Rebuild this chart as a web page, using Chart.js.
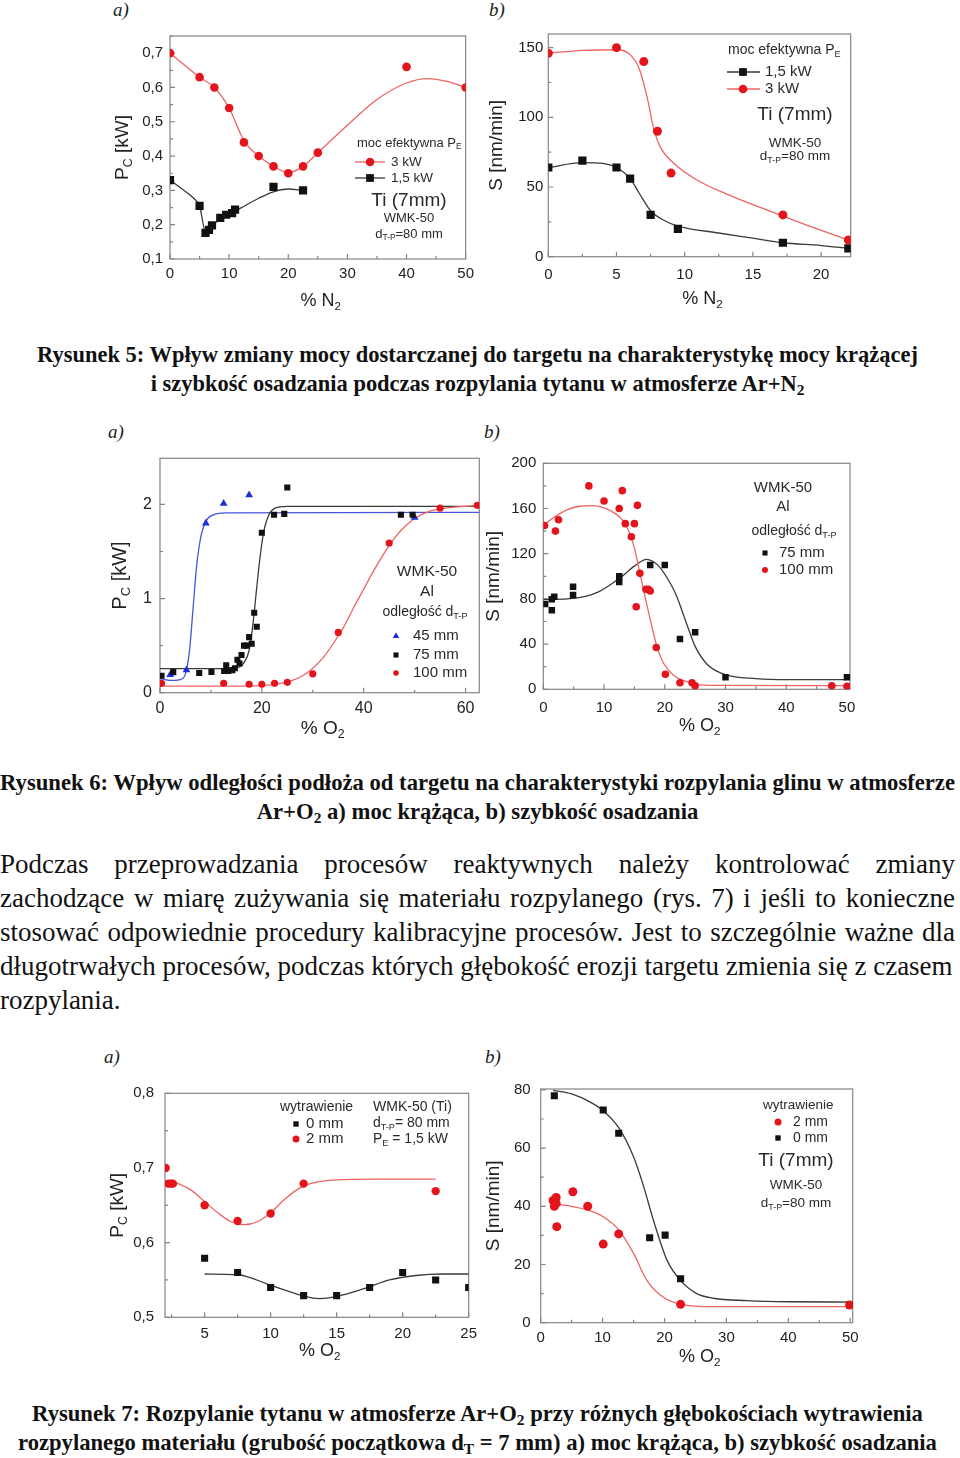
<!DOCTYPE html>
<html lang="pl">
<head>
<meta charset="utf-8">
<script src="https://cdn.jsdelivr.net/npm/chart.js@4/dist/chart.umd.min.js"></script>
<style>
  body { margin: 0; width: 960px; height: 1458px; position: relative; background: #fff; overflow: hidden; }
  canvas { position: absolute; }
  .lbl { position: absolute; font: italic 19px "Liberation Serif", serif; color: #222; line-height: 20px; }
  .cap { position: absolute; left: 0; width: 955px; text-align: center; font-family: "Liberation Serif", serif;
         font-weight: bold; line-height: 29px; white-space: nowrap; color: #111; }
  .para { position: absolute; left: 0; width: 955px; font-family: "Liberation Serif", serif; line-height: 34px;
          white-space: nowrap; color: #111; }
  .para .j { text-align: justify; text-align-last: justify; white-space: normal; }
  sub { font-size: 0.68em; vertical-align: baseline; position: relative; top: 0.28em; line-height: 0; }
</style>
</head>
<body>

<div class="lbl" style="left:113px;top:0px">a)</div>
<div class="lbl" style="left:489px;top:0px">b)</div>
<canvas id="c5a"></canvas>
<canvas id="c5b"></canvas>

<div class="cap" data-w="881" style="top:340px">
  <div><span class="ref">Rysunek 5: Wpływ zmiany mocy dostarczanej do targetu na charakterystykę mocy krążącej</span></div>
  <div><span>i szybkość osadzania podczas rozpylania tytanu w atmosferze Ar+N<sub>2</sub></span></div>
</div>

<div class="lbl" style="left:108px;top:422px">a)</div>
<div class="lbl" style="left:484px;top:422px">b)</div>
<canvas id="c6a"></canvas>
<canvas id="c6b"></canvas>

<div class="cap" data-w="955" style="top:768px">
  <div><span class="ref">Rysunek 6: Wpływ odległości podłoża od targetu na charakterystyki rozpylania glinu w atmosferze</span></div>
  <div><span>Ar+O<sub>2</sub> a) moc krążąca, b) szybkość osadzania</span></div>
</div>

<div class="para" data-w="953" style="top:847px">
  <div class="j">Podczas przeprowadzania procesów reaktywnych należy kontrolować zmiany</div>
  <div class="j">zachodzące w miarę zużywania się materiału rozpylanego (rys. 7) i jeśli to konieczne</div>
  <div class="j">stosować odpowiednie procedury kalibracyjne procesów. Jest to szczególnie ważne dla</div>
  <div><span class="ref">długotrwałych procesów, podczas których głębokość erozji targetu zmienia się z czasem</span></div>
  <div>rozpylania.</div>
</div>

<div class="lbl" style="left:104px;top:1047px">a)</div>
<div class="lbl" style="left:485px;top:1047px">b)</div>
<canvas id="c7a"></canvas>
<canvas id="c7b"></canvas>

<div class="cap" data-w="919" style="top:1399px">
  <div><span>Rysunek 7: Rozpylanie tytanu w atmosferze Ar+O<sub>2</sub> przy różnych głębokościach wytrawienia</span></div>
  <div><span class="ref">rozpylanego materiału (grubość początkowa d<sub>T</sub> = 7 mm) a) moc krążąca, b) szybkość osadzania</span></div>
</div>

<script>
// ---------- dane: Rys. 5a (P_C od % N2) ----------
const f5a_x3kW = [0, 5, 7.5, 10, 12.5, 15, 17.5, 20, 22.5, 25, 40, 50];
const f5a_y3kW = [0.70, 0.63, 0.60, 0.54, 0.44, 0.40, 0.37, 0.35, 0.37, 0.41, 0.66, 0.60];
const f5a_fit3kW_x = [0, 5, 7.5, 10, 12.5, 15, 17.5, 20, 22.5, 25, 30, 35, 40, 43.5, 47, 50];
const f5a_fit3kW_y = [0.70, 0.63, 0.60, 0.54, 0.445, 0.40, 0.37, 0.352, 0.37, 0.41, 0.49, 0.565, 0.613, 0.626, 0.617, 0.60];
const f5a_x15kW = [0, 5, 6, 6.6, 7.1, 8.5, 9.5, 10.5, 11, 17.5, 22.5];
const f5a_y15kW = [0.33, 0.255, 0.176, 0.185, 0.198, 0.22, 0.229, 0.234, 0.244, 0.31, 0.30];
const f5a_fit15kW_x = [0, 2, 4, 5, 6, 7, 8.5, 10, 12, 15, 17.5, 20, 22.5];
const f5a_fit15kW_y = [0.33, 0.305, 0.277, 0.255, 0.18, 0.196, 0.216, 0.23, 0.249, 0.277, 0.296, 0.304, 0.30];
const f5a_xTicks = [0, 10, 20, 30, 40, 50];
const f5a_yTicks = [0.1, 0.2, 0.3, 0.4, 0.5, 0.6, 0.7];

// ---------- Rys. 5b (S od % N2) ----------
const f5b_x15kW = [0, 2.5, 5, 6, 7.5, 9.5, 17.2, 22];
const f5b_y15kW = [64, 69, 64, 56, 30, 20, 10, 6];
const f5b_fit15kW_x = [0, 2.5, 4, 5, 6, 6.7, 7.5, 8.5, 9.5, 12.5, 15, 17.2, 20, 22];
const f5b_fit15kW_y = [64, 67.5, 67, 64, 56, 45, 33, 26, 22, 17, 13.3, 10, 8, 6];
const f5b_x3kW = [0, 5, 7, 8, 9, 17.2, 22];
const f5b_y3kW = [146, 150, 140, 90, 60, 30, 12];
const f5b_fit3kW_x = [0, 2.5, 5, 6, 6.7, 7.3, 7.7, 8.2, 9.2, 10.9, 13.3, 17, 19.4, 22];
const f5b_fit3kW_y = [146, 148, 148.5, 145, 134, 112, 93, 79, 67, 55, 44, 30, 21, 12];
const f5b_xTicks = [0, 5, 10, 15, 20];
const f5b_yTicks = [0, 50, 100, 150];

// ---------- Rys. 6a (P_C od % O2, Al) ----------
const f6a_x45 = [2, 2.5, 5.2, 9, 12.5, 17.5, 50];
const f6a_y45 = [0.19, 0.21, 0.24, 1.80, 2.01, 2.10, 1.86];
const f6a_fit45_x = [0, 2, 4, 5, 5.8, 6.5, 7.2, 8, 9, 10.5, 13, 62.7];
const f6a_fit45_y = [0.15, 0.13, 0.14, 0.2, 0.45, 0.9, 1.35, 1.65, 1.82, 1.89, 1.91, 1.915];
const f6a_x75 = [0.3, 2.6, 7.7, 10.1, 12.6, 13.0, 13.4, 14.2, 14.7, 15.2, 15.6, 16.0, 16.5, 17.0, 17.5, 18.0, 18.5, 19.0, 20.0, 22.4, 24.4, 25.0, 47.3, 49.6];
const f6a_y75 = [0.18, 0.22, 0.21, 0.22, 0.23, 0.29, 0.23, 0.24, 0.26, 0.35, 0.31, 0.40, 0.50, 0.50, 0.59, 0.52, 0.85, 0.70, 1.70, 1.89, 1.90, 2.18, 1.89, 1.89];
const f6a_fit75_x = [0, 14, 15.5, 16.5, 17.5, 18.3, 19, 19.6, 20.3, 21.3, 22.6, 25, 62.7];
const f6a_fit75_y = [0.255, 0.255, 0.27, 0.32, 0.45, 0.75, 1.12, 1.42, 1.69, 1.88, 1.96, 1.98, 1.98];
const f6a_x100 = [0.3, 12.5, 17.5, 20, 22.5, 25, 30, 35, 45, 55, 62.3];
const f6a_y100 = [0.10, 0.10, 0.09, 0.09, 0.10, 0.11, 0.20, 0.64, 1.59, 1.96, 1.99];
const f6a_fit100_x = [0, 15, 20, 23, 26, 28, 30, 32, 34, 36, 38, 40, 42, 44, 46, 48, 50, 53, 56, 62.7];
const f6a_fit100_y = [0.07, 0.07, 0.075, 0.09, 0.13, 0.18, 0.26, 0.37, 0.52, 0.69, 0.9, 1.1, 1.3, 1.48, 1.64, 1.76, 1.85, 1.93, 1.96, 1.99];
const f6a_xTicks = [0, 20, 40, 60];
const f6a_yTicks = [0, 1, 2];

// ---------- Rys. 6b (S od % O2, Al) ----------
const f6b_x75 = [0.3, 1.4, 1.4, 1.8, 4.9, 4.9, 12.5, 12.5, 17.6, 20, 22.5, 25, 30, 50];
const f6b_y75 = [75.5, 70, 79.6, 82, 90.8, 83.5, 100, 95, 110, 110, 44.5, 50.4, 10.6, 10.6];
const f6b_fit75_x = [0, 5, 9, 12.5, 15, 17, 19, 21, 22, 23, 24, 25, 27, 30, 35, 40, 50];
const f6b_fit75_y = [79.5, 80.5, 86, 98, 109, 115, 109, 93, 82, 67, 52, 38, 22, 13, 9.5, 8.5, 8.5];
const f6b_x100 = [0.2, 2.0, 2.5, 7.5, 10, 12.5, 13.0, 13.5, 14.5, 15.0, 15.5, 15.3, 15.9, 16.9, 17.3, 17.6, 18.6, 20.1, 22.5, 24.5, 25, 47.5, 50];
const f6b_y100 = [145, 140, 150, 180, 166.7, 160, 175.8, 146.6, 135, 146.6, 162.8, 73, 102.6, 88.5, 88.5, 87, 37, 13.3, 5.8, 5.8, 3.2, 3.2, 2.7];
const f6b_fit100_x = [0, 2, 4, 6, 8, 10, 12, 13, 14, 15, 15.9, 17, 17.9, 18.7, 19.8, 21.4, 23.6, 25.8, 30, 50];
const f6b_fit100_y = [145, 153, 159, 162, 162.5, 160.5, 155, 150, 141, 125, 103, 76, 55, 38, 23, 12.7, 6.7, 4, 3.4, 3.3];
const f6b_xTicks = [0, 10, 20, 30, 40, 50];
const f6b_yTicks = [0, 40, 80, 120, 160, 200];

// ---------- Rys. 7a (P_C od % O2, Ti) ----------
const f7a_x0mm = [5, 7.5, 10, 12.5, 15, 17.5, 20, 22.5, 25];
const f7a_y0mm = [0.579, 0.56, 0.54, 0.529, 0.529, 0.54, 0.56, 0.55, 0.54];
const f7a_fit0mm_x = [5, 7.5, 10, 12, 13.7, 15, 17, 19, 21, 23, 25];
const f7a_fit0mm_y = [0.558, 0.557, 0.543, 0.531, 0.525, 0.528, 0.538, 0.55, 0.556, 0.558, 0.558];
const f7a_x2mm = [2.05, 2.25, 2.45, 2.6, 5, 7.5, 10, 12.5, 22.5];
const f7a_y2mm = [0.70, 0.679, 0.679, 0.679, 0.65, 0.629, 0.639, 0.679, 0.669];
const f7a_fit2mm_x = [2.2, 3, 4, 5, 6, 7, 8, 9, 10, 11, 12, 13, 15, 18, 22.5];
const f7a_fit2mm_y = [0.682, 0.679, 0.67, 0.655, 0.64, 0.628, 0.624, 0.628, 0.64, 0.657, 0.671, 0.679, 0.684, 0.685, 0.685];
const f7a_xTicks = [5, 10, 15, 20, 25];
const f7a_yTicks = [0.5, 0.6, 0.7, 0.8];

// ---------- Rys. 7b (S od % O2, Ti) ----------
const f7b_x0mm = [2.2, 10.1, 12.6, 17.6, 20.1, 22.6, 49.9];
const f7b_y0mm = [78, 73.1, 65.1, 29.2, 30.1, 15.1, 6.1];
const f7b_fit0mm_x = [2, 5, 8, 10, 12.6, 15, 16.6, 18.2, 20.4, 22.5, 25.2, 27.9, 33.3, 40, 50];
const f7b_fit0mm_y = [79.8, 78.6, 75.8, 73, 67, 57, 47, 35.3, 21.5, 14.7, 10, 8.4, 7.6, 7.2, 7.1];
const f7b_x2mm = [2.0, 2.2, 2.5, 2.5, 2.6, 5.2, 7.6, 10.1, 12.6, 22.6, 49.9];
const f7b_y2mm = [42, 40, 43, 41, 33, 45, 40, 27, 30.5, 6.3, 6.1];
const f7b_fit2mm_x = [2, 5, 7.6, 10.1, 12.6, 15, 17.1, 19.3, 22.6, 27.9, 50];
const f7b_fit2mm_y = [40.8, 40, 38.7, 36.4, 31.9, 23.8, 14.7, 9.5, 6.3, 5.5, 5.5];
const f7b_xTicks = [0, 10, 20, 30, 40, 50];
const f7b_yTicks = [0, 20, 40, 60, 80];

// ---------- wygląd ----------
const FONT = '"Liberation Sans", Arial, sans-serif';
const RED = '#e3141b', RED_FIT = '#ef6464';
const BLK = '#111111', BLK_FIT = '#3a3a3a';
const BLUE = '#1f2fd6', BLUE_FIT = '#4656da';

function comma(v) { return String(v).replace('.', ','); }

// tekst z indeksem dolnym: "P_{E}"
function rich(ctx, str, x, y, size, align) {
    const segs = str.split(/(_\{[^}]*\})/).filter(Boolean)
        .map(p => p.startsWith('_{') ? { t: p.slice(2, -1), sub: true } : { t: p, sub: false });
    let w = 0;
    segs.forEach(s => {
        ctx.font = (s.sub ? size * 0.65 : size) + 'px ' + FONT;
        s.w = ctx.measureText(s.t).width;
        w += s.w;
    });
    let cx = align === 'center' ? x - w / 2 : x;
    ctx.textAlign = 'left';
    ctx.textBaseline = 'middle';
    segs.forEach(s => {
        ctx.font = (s.sub ? size * 0.65 : size) + 'px ' + FONT;
        ctx.fillText(s.t, cx, s.sub ? y + size * 0.32 : y);
        cx += s.w;
    });
}

function mark(ctx, shape, x, y, r, color) {
    ctx.fillStyle = color;
    ctx.beginPath();
    if (shape === 'circle') ctx.arc(x, y, r, 0, Math.PI * 2);
    else if (shape === 'rect') ctx.rect(x - r * 0.707, y - r * 0.707, r * 1.414, r * 1.414);
    else { ctx.moveTo(x, y - r); ctx.lineTo(x + r * 0.866, y + r * 0.5); ctx.lineTo(x - r * 0.866, y + r * 0.5); ctx.closePath(); }
    ctx.fill();
}

function halves(ticks, min, max) {
    const step = ticks[1] - ticks[0];
    let v = ticks[0] - step / 2;
    while (v - step >= min - 1e-9) v -= step;
    const out = [];
    for (; v <= max + 1e-9; v += step) if (v >= min - 1e-9) out.push(v);
    return out;
}

// ramka, ticki do środka, tytuły osi i opisy
function deco(spec) {
    const ox = spec.box[0], oy = spec.box[1];
    return {
        id: 'deco',
        beforeDatasetsDraw(chart) {
            const ctx = chart.ctx, a = chart.chartArea, sx = chart.scales.x, sy = chart.scales.y;
            ctx.save();
            ctx.strokeStyle = '#858585';
            ctx.lineWidth = 1.2;
            ctx.strokeRect(a.left, a.top, a.right - a.left, a.bottom - a.top);
            ctx.beginPath();
            spec.xTicks.forEach(v => { const p = sx.getPixelForValue(v); ctx.moveTo(p, a.bottom); ctx.lineTo(p, a.bottom - 5); });
            halves(spec.xTicks, sx.min, sx.max).forEach(v => { const p = sx.getPixelForValue(v); ctx.moveTo(p, a.bottom); ctx.lineTo(p, a.bottom - 3); });
            spec.yTicks.forEach(v => { const p = sy.getPixelForValue(v); ctx.moveTo(a.left, p); ctx.lineTo(a.left + 5, p); });
            halves(spec.yTicks, sy.min, sy.max).forEach(v => { const p = sy.getPixelForValue(v); ctx.moveTo(a.left, p); ctx.lineTo(a.left + 3, p); });
            ctx.stroke();
            ctx.restore();
        },
        afterDraw(chart) {
            const ctx = chart.ctx, a = chart.chartArea;
            ctx.save();
            ctx.fillStyle = '#222';
            ctx.translate(spec.yTitle[1] - ox, (a.top + a.bottom) / 2);
            ctx.rotate(-Math.PI / 2);
            rich(ctx, spec.yTitle[0], 0, 0, spec.yTitle[2], 'center');
            ctx.restore();
            ctx.save();
            ctx.fillStyle = '#222';
            rich(ctx, spec.xTitle[0], (a.left + a.right) / 2 + 3, spec.xTitle[1] - oy, spec.xTitle[2], 'center');
            spec.notes.forEach(n => {
                if (n.k === 'line') {
                    ctx.strokeStyle = n.color; ctx.lineWidth = 1.3;
                    ctx.beginPath(); ctx.moveTo(n.x1 - ox, n.y - oy); ctx.lineTo(n.x2 - ox, n.y - oy); ctx.stroke();
                } else if (n.k === 'm') {
                    mark(ctx, n.shape, n.x - ox, n.y - oy, n.r, n.color);
                } else {
                    ctx.fillStyle = '#2a2a2a';
                    rich(ctx, n.s, n.x - ox, n.y - oy, n.size, n.align);
                }
            });
            ctx.restore();
        }
    };
}

function pairs(xs, ys) { return xs.map((x, i) => ({ x: x, y: ys[i] })); }

function makeChart(spec) {
    const cv = document.getElementById(spec.id);
    const [cx, cy, cw, ch] = spec.box;
    const [l, t, r, b] = spec.area;
    cv.style.left = cx + 'px';
    cv.style.top = cy + 'px';
    cv.width = cw;
    cv.height = ch;
    const tickFont = { family: FONT, size: spec.tickSize };
    const datasets = spec.series.map(s => s.fit ? {
        type: 'line', data: pairs(s.x, s.y), borderColor: s.color, borderWidth: 1.3,
        pointRadius: 0, cubicInterpolationMode: 'monotone', fill: false, order: 2
    } : {
        data: pairs(s.x, s.y), pointStyle: s.shape, pointRadius: s.r, backgroundColor: s.color,
        borderColor: s.color, borderWidth: 0, order: 1
    });
    new Chart(cv, {
        type: 'scatter',
        data: { datasets: datasets },
        options: {
            responsive: false,
            animation: false,
            events: [],
            layout: { padding: { left: 0, top: t - cy, right: cx + cw - r, bottom: 0 } },
            plugins: { legend: { display: false }, tooltip: { enabled: false } },
            scales: {
                x: {
                    type: 'linear', min: spec.xRange[0], max: spec.xRange[1],
                    grid: { display: false, drawTicks: false }, border: { display: false },
                    ticks: { font: tickFont, color: '#222', padding: spec.xPad, maxRotation: 0, autoSkip: false, callback: comma },
                    afterBuildTicks: s => { s.ticks = spec.xTicks.map(v => ({ value: v })); },
                    afterFit: s => { s.height = cy + ch - b; }
                },
                y: {
                    type: 'linear', min: spec.yRange[0], max: spec.yRange[1],
                    grid: { display: false, drawTicks: false }, border: { display: false },
                    ticks: { font: tickFont, color: '#222', padding: spec.yPad, autoSkip: false, callback: comma },
                    afterBuildTicks: s => { s.ticks = spec.yTicks.map(v => ({ value: v })); },
                    afterFit: s => { s.width = l - cx; }
                }
            }
        },
        plugins: [deco(spec)]
    });
}

makeChart({
    id: 'c5a', box: [95, 20, 385, 300], area: [170, 36, 472.7, 259],
    xRange: [0, 50], yRange: [0.1, 0.75], xTicks: f5a_xTicks, yTicks: f5a_yTicks,
    tickSize: 15, xPad: 6, yPad: 7,
    yTitle: ['P_{C} [kW]', 123, 19], xTitle: ['% N_{2}', 301, 18],
    series: [
        { fit: true, x: f5a_fit3kW_x, y: f5a_fit3kW_y, color: RED_FIT },
        { fit: true, x: f5a_fit15kW_x, y: f5a_fit15kW_y, color: BLK_FIT },
        { x: f5a_x3kW, y: f5a_y3kW, shape: 'circle', r: 4.3, color: RED },
        { x: f5a_x15kW, y: f5a_y15kW, shape: 'rect', r: 5.8, color: BLK }
    ],
    notes: [
        { s: 'moc efektywna P_{E}', x: 357, y: 143, size: 13 },
        { k: 'line', x1: 355, x2: 385, y: 162, color: RED_FIT },
        { k: 'm', shape: 'circle', x: 370, y: 162, r: 4.3, color: RED },
        { s: '3 kW', x: 391, y: 162, size: 13.5 },
        { k: 'line', x1: 355, x2: 385, y: 178, color: BLK_FIT },
        { k: 'm', shape: 'rect', x: 370, y: 178, r: 5.5, color: BLK },
        { s: '1,5 kW', x: 391, y: 178, size: 13.5 },
        { s: 'Ti (7mm)', x: 409, y: 201, size: 19, align: 'center' },
        { s: 'WMK-50', x: 409, y: 218, size: 13, align: 'center' },
        { s: 'd_{T-P}=80 mm', x: 409, y: 234, size: 13, align: 'center' }
    ]
});

makeChart({
    id: 'c5b', box: [480, 20, 390, 300], area: [548.3, 33.3, 850.7, 256.7],
    xRange: [0, 22.17], yRange: [0, 159.8], xTicks: f5b_xTicks, yTicks: f5b_yTicks,
    tickSize: 15, xPad: 9, yPad: 5,
    yTitle: ['S [nm/min]', 497, 19], xTitle: ['% N_{2}', 299, 18],
    series: [
        { fit: true, x: f5b_fit3kW_x, y: f5b_fit3kW_y, color: RED_FIT },
        { fit: true, x: f5b_fit15kW_x, y: f5b_fit15kW_y, color: BLK_FIT },
        { x: f5b_x3kW, y: f5b_y3kW, shape: 'circle', r: 4.5, color: RED },
        { x: f5b_x15kW, y: f5b_y15kW, shape: 'rect', r: 5.8, color: BLK }
    ],
    notes: [
        { s: 'moc efektywna P_{E}', x: 728, y: 50, size: 14 },
        { k: 'line', x1: 727, x2: 760, y: 72, color: BLK_FIT },
        { k: 'm', shape: 'rect', x: 743, y: 72, r: 5.5, color: BLK },
        { s: '1,5 kW', x: 765, y: 72, size: 15 },
        { k: 'line', x1: 727, x2: 760, y: 89, color: RED_FIT },
        { k: 'm', shape: 'circle', x: 743, y: 89, r: 4.3, color: RED },
        { s: '3 kW', x: 765, y: 89, size: 15 },
        { s: 'Ti (7mm)', x: 795, y: 115, size: 19, align: 'center' },
        { s: 'WMK-50', x: 795, y: 143, size: 13.5, align: 'center' },
        { s: 'd_{T-P}=80 mm', x: 795, y: 156, size: 13.5, align: 'center' }
    ]
});

makeChart({
    id: 'c6a', box: [95, 440, 390, 310], area: [160, 458.3, 479.3, 692.7],
    xRange: [0, 62.7], yRange: [0, 2.49], xTicks: f6a_xTicks, yTicks: f6a_yTicks,
    tickSize: 16, xPad: 6, yPad: 8,
    yTitle: ['P_{C} [kW]', 120, 20], xTitle: ['% O_{2}', 729, 19],
    series: [
        { fit: true, x: f6a_fit100_x, y: f6a_fit100_y, color: RED_FIT },
        { fit: true, x: f6a_fit75_x, y: f6a_fit75_y, color: BLK_FIT },
        { fit: true, x: f6a_fit45_x, y: f6a_fit45_y, color: BLUE_FIT },
        { x: f6a_x100, y: f6a_y100, shape: 'circle', r: 3.6, color: RED },
        { x: f6a_x75, y: f6a_y75, shape: 'rect', r: 4.3, color: BLK },
        { x: f6a_x45, y: f6a_y45, shape: 'triangle', r: 4.5, color: BLUE }
    ],
    notes: [
        { s: 'WMK-50', x: 427, y: 572, size: 15.5, align: 'center' },
        { s: 'Al', x: 427, y: 592, size: 15.5, align: 'center' },
        { s: 'odległość d_{T-P}', x: 425, y: 612, size: 14, align: 'center' },
        { k: 'm', shape: 'triangle', x: 396, y: 636, r: 3.8, color: BLUE },
        { s: '45 mm', x: 413, y: 636, size: 15 },
        { k: 'm', shape: 'rect', x: 396, y: 655, r: 3.6, color: BLK },
        { s: '75 mm', x: 413, y: 655, size: 15 },
        { k: 'm', shape: 'circle', x: 396, y: 673, r: 2.8, color: RED },
        { s: '100 mm', x: 413, y: 673, size: 15 }
    ]
});

makeChart({
    id: 'c6b', box: [480, 440, 390, 310], area: [543.3, 463.3, 850, 689.3],
    xRange: [0, 50.5], yRange: [0, 200], xTicks: f6b_xTicks, yTicks: f6b_yTicks,
    tickSize: 15, xPad: 10, yPad: 7,
    yTitle: ['S [nm/min]', 494, 19], xTitle: ['% O_{2}', 726, 18],
    series: [
        { fit: true, x: f6b_fit100_x, y: f6b_fit100_y, color: RED_FIT },
        { fit: true, x: f6b_fit75_x, y: f6b_fit75_y, color: BLK_FIT },
        { x: f6b_x100, y: f6b_y100, shape: 'circle', r: 3.8, color: RED },
        { x: f6b_x75, y: f6b_y75, shape: 'rect', r: 4.6, color: BLK }
    ],
    notes: [
        { s: 'WMK-50', x: 783, y: 488, size: 15, align: 'center' },
        { s: 'Al', x: 783, y: 507, size: 15, align: 'center' },
        { s: 'odległość d_{T-P}', x: 794, y: 531, size: 14, align: 'center' },
        { k: 'm', shape: 'rect', x: 765, y: 553, r: 3.6, color: BLK },
        { s: '75 mm', x: 779, y: 553, size: 15 },
        { k: 'm', shape: 'circle', x: 765, y: 570, r: 3, color: RED },
        { s: '100 mm', x: 779, y: 570, size: 15 }
    ]
});

makeChart({
    id: 'c7a', box: [95, 1070, 390, 310], area: [165, 1093.3, 469.3, 1317.3],
    xRange: [2, 25], yRange: [0.5, 0.8], xTicks: f7a_xTicks, yTicks: f7a_yTicks,
    tickSize: 15, xPad: 8, yPad: 11,
    yTitle: ['P_{C} [kW]', 118, 19], xTitle: ['% O_{2}', 1351, 18],
    series: [
        { fit: true, x: f7a_fit2mm_x, y: f7a_fit2mm_y, color: RED_FIT },
        { fit: true, x: f7a_fit0mm_x, y: f7a_fit0mm_y, color: BLK_FIT },
        { x: f7a_x2mm, y: f7a_y2mm, shape: 'circle', r: 4.2, color: RED },
        { x: f7a_x0mm, y: f7a_y0mm, shape: 'rect', r: 5, color: BLK }
    ],
    notes: [
        { s: 'wytrawienie', x: 280, y: 1107, size: 14 },
        { k: 'm', shape: 'rect', x: 296, y: 1124, r: 3.8, color: BLK },
        { s: '0 mm', x: 306, y: 1124, size: 15 },
        { k: 'm', shape: 'circle', x: 296, y: 1139, r: 3.5, color: RED },
        { s: '2 mm', x: 306, y: 1139, size: 15 },
        { s: 'WMK-50 (Ti)', x: 373, y: 1107, size: 14 },
        { s: 'd_{T-P}= 80 mm', x: 373, y: 1123, size: 14 },
        { s: 'P_{E} = 1,5 kW', x: 373, y: 1139, size: 14 }
    ]
});

makeChart({
    id: 'c7b', box: [480, 1070, 390, 310], area: [540.7, 1089, 852.7, 1322.7],
    xRange: [0, 50.4], yRange: [0, 80.3], xTicks: f7b_xTicks, yTicks: f7b_yTicks,
    tickSize: 15, xPad: 6, yPad: 10,
    yTitle: ['S [nm/min]', 494, 19], xTitle: ['% O_{2}', 1357, 18],
    series: [
        { fit: true, x: f7b_fit2mm_x, y: f7b_fit2mm_y, color: RED_FIT },
        { fit: true, x: f7b_fit0mm_x, y: f7b_fit0mm_y, color: BLK_FIT },
        { x: f7b_x2mm, y: f7b_y2mm, shape: 'circle', r: 4.5, color: RED },
        { x: f7b_x0mm, y: f7b_y0mm, shape: 'rect', r: 5, color: BLK }
    ],
    notes: [
        { s: 'wytrawienie', x: 763, y: 1105, size: 13.5 },
        { k: 'm', shape: 'circle', x: 778, y: 1122, r: 3.5, color: RED },
        { s: '2 mm', x: 793, y: 1122, size: 14 },
        { k: 'm', shape: 'rect', x: 778, y: 1138, r: 3.8, color: BLK },
        { s: '0 mm', x: 793, y: 1138, size: 14 },
        { s: 'Ti (7mm)', x: 796, y: 1161, size: 19, align: 'center' },
        { s: 'WMK-50', x: 796, y: 1185, size: 13.5, align: 'center' },
        { s: 'd_{T-P}=80 mm', x: 796, y: 1203, size: 13.5, align: 'center' }
    ]
});

// dopasowanie rozmiaru czcionki podpisów do szerokości linii
document.querySelectorAll('[data-w]').forEach(el => {
    el.style.fontSize = '20px';
    const ref = el.querySelector('.ref');
    const w = ref.getBoundingClientRect().width;
    el.style.fontSize = (20 * Number(el.dataset.w) / w).toFixed(2) + 'px';
});
</script>
</body>
</html>
